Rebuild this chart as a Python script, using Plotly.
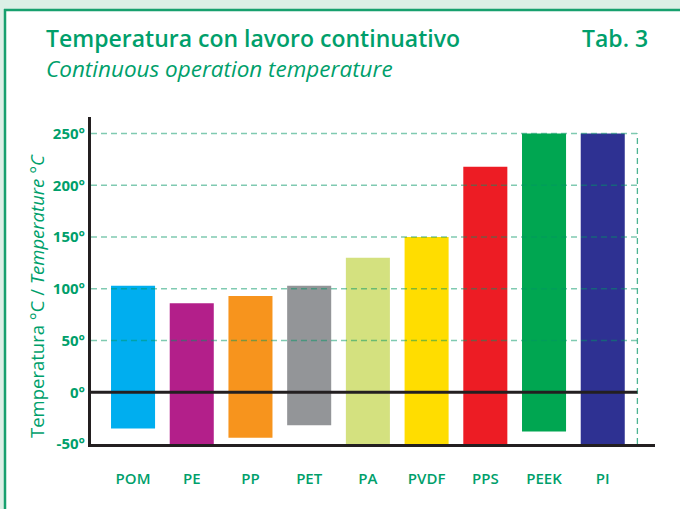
import plotly.graph_objects as go

materials = ["POM", "PE", "PP", "PET", "PA", "PVDF", "PPS", "PEEK", "PI"]
temp_min = [-35, -50, -44, -32, -50, -50, -50, -38, -50]
temp_max = [103, 86, 93, 103, 130, 150, 218, 250, 250]
bar_colors = ["#00aeef", "#b31f8a", "#f7941d", "#939598", "#d4e17f",
              "#ffdd00", "#ed1c24", "#00a651", "#2e3192"]
y_ticks = [-50, 0, 50, 100, 150, 200, 250]
y_tick_labels = ["-50°", "0°", "50°", "100°", "150°", "200°", "250°"]

GREEN = "#009f6b"
FONT = "Open Sans"

W, H = 680, 509
L, R, T, B = 91, 25, 117, 65
pw, ph = W - L - R, H - T - B


def px(x):
    return (x - L) / pw


def py(y):
    return (H - B - y) / ph


fig = go.Figure()
fig.add_trace(go.Bar(
    x=materials,
    y=[hi - lo for lo, hi in zip(temp_min, temp_max)],
    base=temp_min,
    marker=dict(color=bar_colors, line=dict(width=0)),
    hoverinfo="skip",
))

shapes = []
# frame
shapes.append(dict(type="rect", xref="paper", yref="paper", x0=px(0), x1=px(W), y0=py(0), y1=py(10),
                   fillcolor="#dcefe6", line=dict(width=0), layer="below"))
shapes.append(dict(type="rect", xref="paper", yref="paper", x0=px(0), x1=px(4), y0=py(0), y1=py(H),
                   fillcolor="#dcefe6", line=dict(width=0), layer="below"))
shapes.append(dict(type="line", xref="paper", yref="paper", x0=px(4), x1=px(W), y0=py(10), y1=py(10),
                   line=dict(color="#17a06e", width=2.5)))
shapes.append(dict(type="line", xref="paper", yref="paper", x0=px(5), x1=px(5), y0=py(9), y1=py(H),
                   line=dict(color="#17a06e", width=2.5)))
# dashed grid lines above bars
grid_right = 8.59
for v in y_ticks[2:]:
    shapes.append(dict(type="line", xref="x", yref="y", x0=-0.716, x1=grid_right, y0=v, y1=v,
                       line=dict(color="rgba(0,150,100,0.5)", width=1.6, dash="6px,4px"), layer="above"))
shapes.append(dict(type="line", xref="x", yref="y", x0=grid_right, x1=grid_right, y0=-50, y1=250,
                   line=dict(color="rgba(0,150,100,0.7)", width=1.3, dash="6px,4px"), layer="above"))
# zero line
shapes.append(dict(type="line", xref="x", yref="y", x0=-0.716, x1=grid_right, y0=0, y1=0,
                   line=dict(color="#231f20", width=3), layer="above"))

annotations = [
    dict(text="Temperatura con lavoro continuativo", xref="paper", yref="paper",
         x=px(44), y=py(38), xanchor="left", yanchor="middle", showarrow=False,
         font=dict(family=FONT, size=23, color=GREEN, weight=600)),
    dict(text="<i>Continuous operation temperature</i>", xref="paper", yref="paper",
         x=px(44), y=py(68), xanchor="left", yanchor="middle", showarrow=False,
         font=dict(family=FONT, size=22.5, color=GREEN, weight=500)),
    dict(text="Tab. 3", xref="paper", yref="paper",
         x=px(650), y=py(38), xanchor="right", yanchor="middle", showarrow=False,
         font=dict(family=FONT, size=23, color=GREEN, weight=600)),
    dict(text="Temperatura °C / <i>Temperature °C</i>", xref="paper", yref="paper",
         x=px(36), y=py(296), xanchor="center", yanchor="middle", textangle=-90, showarrow=False,
         font=dict(family=FONT, size=18.5, color=GREEN, weight=500)),
]

fig.update_layout(
    width=W, height=H,
    margin=dict(l=L, r=R, t=T, b=B),
    paper_bgcolor="white", plot_bgcolor="white",
    bargap=0.25,
    showlegend=False,
    shapes=shapes,
    annotations=annotations,
    xaxis=dict(range=[-0.716, 8.89], showgrid=False, zeroline=False, automargin=False,
               showline=True, linecolor="#231f20", linewidth=3,
               ticks="", tickfont=dict(family=FONT, size=15, color=GREEN, weight=600),
               ticklabelstandoff=19, fixedrange=True),
    yaxis=dict(range=[-50, 266], showgrid=False, zeroline=False, automargin=False,
               showline=True, linecolor="#231f20", linewidth=3,
               tickmode="array", tickvals=y_ticks, ticktext=y_tick_labels,
               ticks="", tickfont=dict(family=FONT, size=15, color=GREEN, weight=700),
               ticklabelstandoff=0, fixedrange=True),
)

fig.write_html("out.html", config={"displayModeBar": False},
               post_script="document.body.style.margin='0';document.body.style.overflow='hidden';")
